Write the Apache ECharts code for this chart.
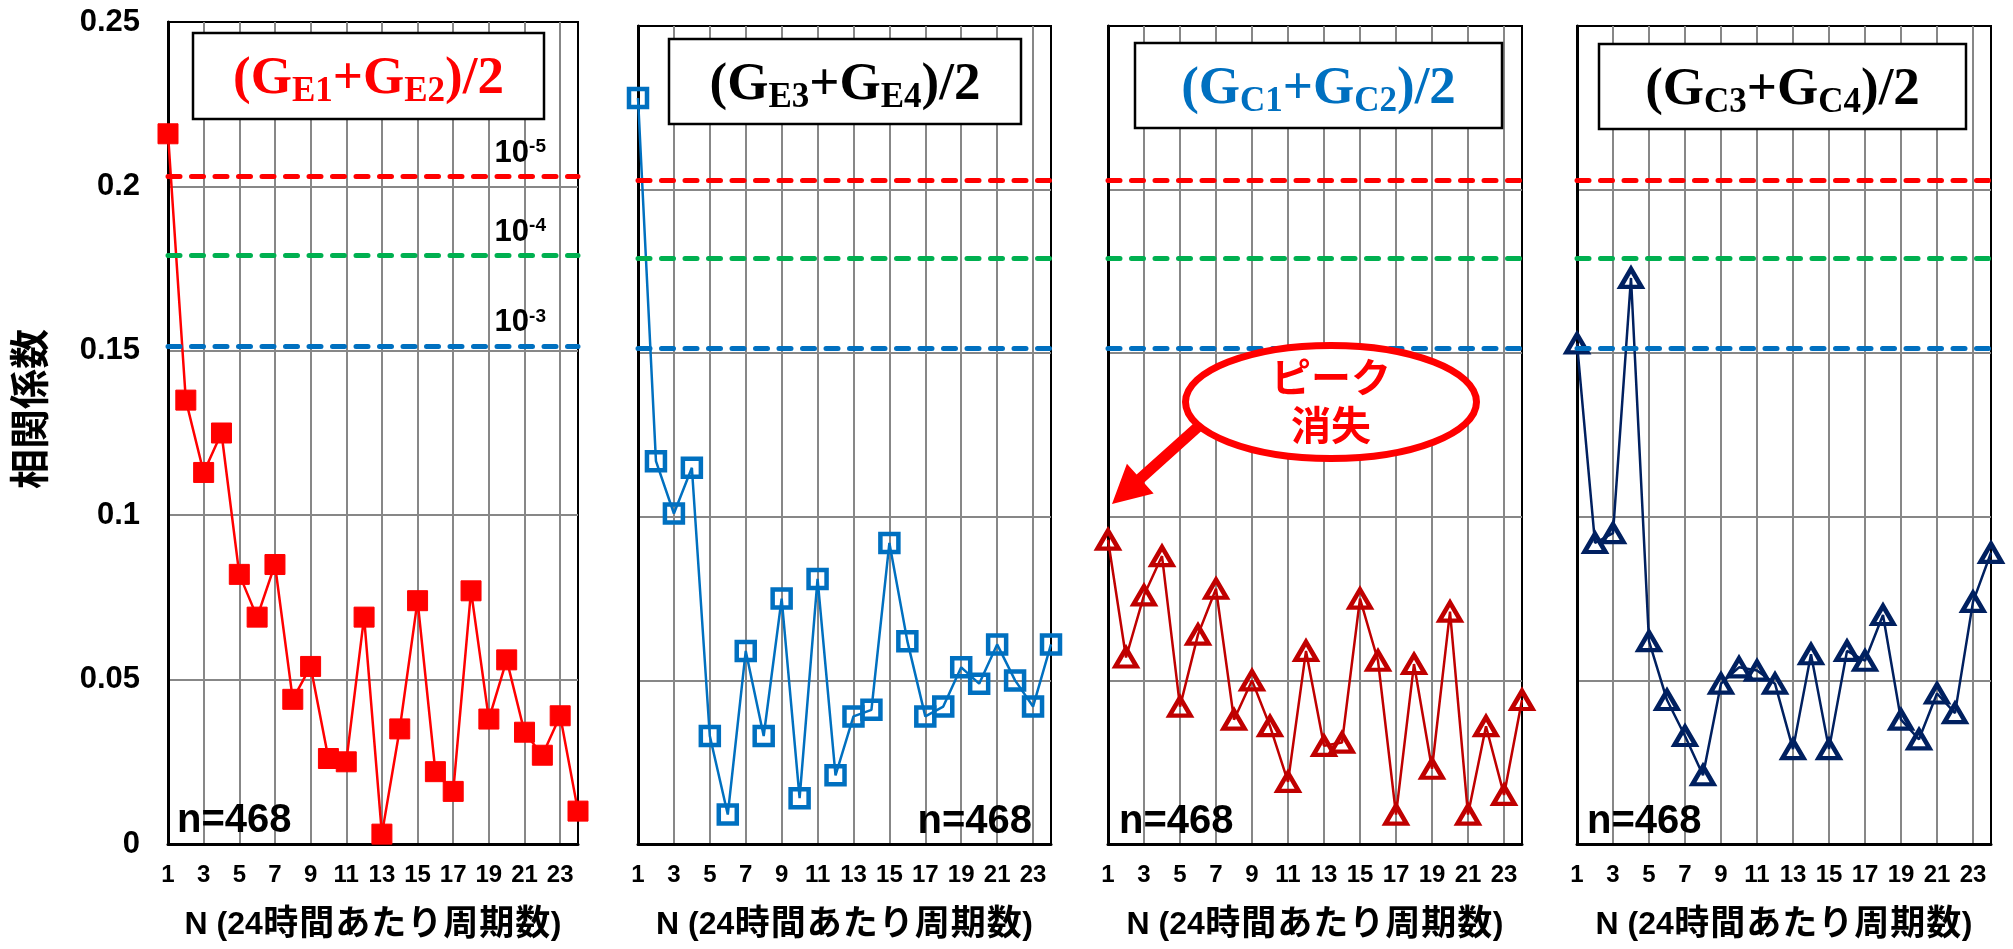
<!DOCTYPE html>
<html>
<head>
<meta charset="utf-8">
<script src="https://cdn.jsdelivr.net/npm/echarts@6/dist/echarts.min.js"></script>
<style>
  html, body { margin: 0; padding: 0; background: #ffffff; }
  #chart { width: 2013px; height: 949px; }
</style>
</head>
<body>
<div id="chart"></div>
<script>
// Cycles per 24 hours (category axis)
const cycles = ['1','2','3','4','5','6','7','8','9','10','11','12','13','14','15','16','17','18','19','20','21','22','23','24'];

// Correlation coefficients, one array per averaged pair
const gE12 = [0.216, 0.135, 0.113, 0.125, 0.082, 0.069, 0.085, 0.044, 0.054, 0.026, 0.025, 0.069,
              0.003, 0.035, 0.074, 0.022, 0.016, 0.077, 0.038, 0.056, 0.034, 0.027, 0.039, 0.010];
const gE34 = [0.228, 0.117, 0.101, 0.115, 0.033, 0.009, 0.059, 0.033, 0.075, 0.014, 0.081, 0.021,
              0.039, 0.041, 0.092, 0.062, 0.039, 0.042, 0.054, 0.049, 0.061, 0.050, 0.042, 0.061];
const gC12 = [0.093, 0.057, 0.076, 0.088, 0.042, 0.064, 0.078, 0.038, 0.050, 0.036, 0.019, 0.059,
              0.030, 0.031, 0.075, 0.056, 0.009, 0.055, 0.023, 0.071, 0.009, 0.036, 0.015, 0.044];
const gC34 = [0.153, 0.092, 0.095, 0.173, 0.062, 0.044, 0.033, 0.021, 0.049, 0.054, 0.053, 0.049,
              0.029, 0.058, 0.029, 0.059, 0.056, 0.070, 0.038, 0.032, 0.046, 0.040, 0.074, 0.089];

// Significance thresholds (n = 468)
const thresholdValues = [0.203, 0.179, 0.1515];
const thresholdExponents = ['-5', '-4', '-3'];
const thresholdColors = ['#FF0000', '#00B050', '#0070C0'];

const sampleLabel = 'n=468';
const yAxisTitle = '相関係数';
const xTitleLatinHead = 'N (24';
const xTitleCjk = ['時', '間', 'あ', 'た', 'り', '周', '期', '数'];
const xTitleLatinTail = ')';

const SANS = "'Liberation Sans', 'Noto Sans CJK JP', sans-serif";
const SERIF = "'Liberation Serif', 'DejaVu Serif', serif";

// Panel layout and styling
const panels = [
  { values: gE12, grid: [168, 22, 410, 822], color: '#FF0000', symbol: 'rect', size: 20, filled: true,
    sub: ['E1', 'E2'], titleColor: '#FF0000', box: [193, 33, 351, 86], nAlign: 'left', nX: 177, nY: 821 },
  { values: gE34, grid: [638, 26, 413, 818], color: '#0070C0', symbol: 'rect', size: 18, filled: false,
    sub: ['E3', 'E4'], titleColor: '#000000', box: [669, 39, 352, 85], nAlign: 'right', nX: 1032, nY: 822 },
  { values: gC12, grid: [1108, 26, 414, 818], color: '#C00000', symbol: 'triangle', size: [21, 18], filled: false,
    sub: ['C1', 'C2'], titleColor: '#0070C0', box: [1135, 43, 367, 85], nAlign: 'left', nX: 1119, nY: 822 },
  { values: gC34, grid: [1577, 26, 414, 818], color: '#002060', symbol: 'triangle', size: [21, 18], filled: false,
    sub: ['C3', 'C4'], titleColor: '#000000', box: [1599, 44, 367, 85], nAlign: 'left', nX: 1587, nY: 822 }
];

const xTitle = xTitleLatinHead + xTitleCjk.map(c => '{cjk|' + c + '}').join('') + xTitleLatinTail;

function thresholdLines() {
  return thresholdValues.map((v, k) => ({
    yAxis: v,
    lineStyle: { color: thresholdColors[k], width: 5, type: [12, 11.5], cap: 'round' },
    label: { show: false }
  }));
}

function arrowPoints(x1, y1, x2, y2, shaftW, headL, headW) {
  const dx = x2 - x1, dy = y2 - y1, len = Math.hypot(dx, dy);
  const ux = dx / len, uy = dy / len, px = -uy, py = ux;
  const bx = x2 - ux * headL, by = y2 - uy * headL;
  return [
    [x1 + px * shaftW / 2, y1 + py * shaftW / 2],
    [bx + px * shaftW / 2, by + py * shaftW / 2],
    [bx + px * headW / 2, by + py * headW / 2],
    [x2, y2],
    [bx - px * headW / 2, by - py * headW / 2],
    [bx - px * shaftW / 2, by - py * shaftW / 2],
    [x1 - px * shaftW / 2, y1 - py * shaftW / 2]
  ];
}

const grids = [], xAxes = [], yAxes = [], series = [], graphics = [];

panels.forEach((p, i) => {
  grids.push({
    left: p.grid[0], top: p.grid[1], width: p.grid[2], height: p.grid[3],
    show: true, borderColor: '#000', borderWidth: 2, backgroundColor: 'transparent',
    containLabel: false, outerBoundsMode: 'none'
  });

  xAxes.push({
    type: 'category', gridIndex: i, data: cycles, boundaryGap: false,
    axisLine: { show: true, onZero: false, lineStyle: { color: '#000', width: 3 } },
    axisTick: { show: false },
    axisLabel: {
      interval: (idx) => idx % 2 === 0, margin: 19, fontSize: 24, fontWeight: 'bold',
      color: '#000', fontFamily: SANS, hideOverlap: false
    },
    splitLine: {
      show: true, interval: (idx) => idx % 2 === 0 && idx > 0,
      lineStyle: { color: '#878787', width: 2 }
    },
    name: xTitle, nameLocation: 'middle', nameGap: 64, nameMoveOverlap: false,
    nameTextStyle: {
      fontSize: 32, fontWeight: 'bold', color: '#000', fontFamily: SANS,
      rich: { cjk: { fontSize: 35, fontWeight: 'bold', color: '#000', fontFamily: SANS, padding: [0, 0.5, 0, 0.5] } }
    }
  });

  yAxes.push({
    type: 'value', gridIndex: i, min: 0, max: 0.25, interval: 0.05,
    axisLine: { show: true, lineStyle: { color: '#000', width: 3 } },
    axisTick: { show: false },
    axisLabel: { show: i === 0, margin: 28, fontSize: 31, fontWeight: 'bold', color: '#000', fontFamily: SANS },
    splitLine: { show: true, showMinLine: false, showMaxLine: false, lineStyle: { color: '#878787', width: 2 } },
    name: i === 0 ? yAxisTitle : '', nameLocation: 'middle', nameRotate: 90, nameGap: 115, nameMoveOverlap: false,
    nameTextStyle: { fontSize: 40, fontWeight: 'bold', color: '#000', fontFamily: SANS, padding: [0, 0, 0, 48] }
  });

  series.push({
    type: 'line', xAxisIndex: i, yAxisIndex: i, data: p.values,
    symbol: p.symbol, symbolSize: p.size, showAllSymbol: true,
    lineStyle: { color: p.color, width: 2.5 },
    itemStyle: p.filled
      ? { color: p.color, borderColor: p.color, borderWidth: 1 }
      : { color: 'rgba(0,0,0,0)', borderColor: p.color, borderWidth: 4.5 },
    emphasis: { disabled: true },
    animation: false,
    markLine: {
      silent: true, symbol: 'none', animation: false, precision: 4, emphasis: { disabled: true },
      data: thresholdLines()
    }
  });

  // Title box with the averaged pair name
  const [bx, by, bw, bh] = p.box;
  graphics.push({
    type: 'rect', z: 50, shape: { x: bx, y: by, width: bw, height: bh },
    style: { fill: '#fff', stroke: '#000', lineWidth: 2.5 }
  });
  graphics.push({
    type: 'text', z: 51, x: bx + bw / 2, y: by + 46,
    style: {
      text: '{m|(G}{s|' + p.sub[0] + '}{m|+G}{s|' + p.sub[1] + '}{m|)/2}',
      align: 'center', verticalAlign: 'middle',
      rich: {
        m: { fontSize: 53, fontWeight: 'bold', fontFamily: SERIF, fill: p.titleColor, lineHeight: 60 },
        s: { fontSize: 35, fontWeight: 'bold', fontFamily: SERIF, fill: p.titleColor, lineHeight: 26, verticalAlign: 'bottom' }
      }
    }
  });

  // Sample size note
  graphics.push({
    type: 'text', z: 40, x: p.nX, y: p.nY,
    style: {
      text: sampleLabel, fontSize: 40, fontWeight: 'bold', fontFamily: SANS, fill: '#000',
      align: p.nAlign, verticalAlign: 'middle'
    }
  });
});

// Callout: the peak at N=1 disappears for (GC1+GC2)/2
graphics.push({
  type: 'polygon', z: 60,
  shape: { points: arrowPoints(1200, 425, 1112, 504, 11, 38, 40) },
  style: { fill: '#FF0000' }
});
graphics.push({
  type: 'ellipse', z: 61,
  shape: { cx: 1331, cy: 402, rx: 145.5, ry: 56.5 },
  style: { fill: '#fff', stroke: '#FF0000', lineWidth: 7 }
});
graphics.push({
  type: 'text', z: 62, x: 1331, y: 401,
  style: {
    text: 'ピーク\n消失', fontSize: 40, fontWeight: 'bold', fontFamily: "'Noto Sans CJK JP', sans-serif",
    fill: '#FF0000', align: 'center', verticalAlign: 'middle', lineHeight: 48
  }
});

const chart = echarts.init(document.getElementById('chart'), null, { renderer: 'canvas' });
chart.setOption({
  backgroundColor: '#ffffff',
  animation: false,
  grid: grids,
  xAxis: xAxes,
  yAxis: yAxes,
  series: series,
  graphic: graphics
});

// Significance level labels above the right end of each threshold in the first panel
const levelLabels = thresholdValues.map((v, k) => {
  const pt = chart.convertToPixel({ gridIndex: 0 }, [cycles[cycles.length - 1], v]);
  return {
    type: 'text', z: 45, x: pt[0] - 32, y: pt[1] - 23,
    style: {
      text: '{base|10}{sup|' + thresholdExponents[k] + '}',
      align: 'right', verticalAlign: 'middle',
      rich: {
        base: { fontSize: 31, fontWeight: 'bold', fontFamily: SANS, fill: '#000', lineHeight: 32 },
        sup: { fontSize: 19, fontWeight: 'bold', fontFamily: SANS, fill: '#000', lineHeight: 18, verticalAlign: 'top' }
      }
    }
  };
});
chart.setOption({ graphic: graphics.concat(levelLabels) });
</script>
</body>
</html>
